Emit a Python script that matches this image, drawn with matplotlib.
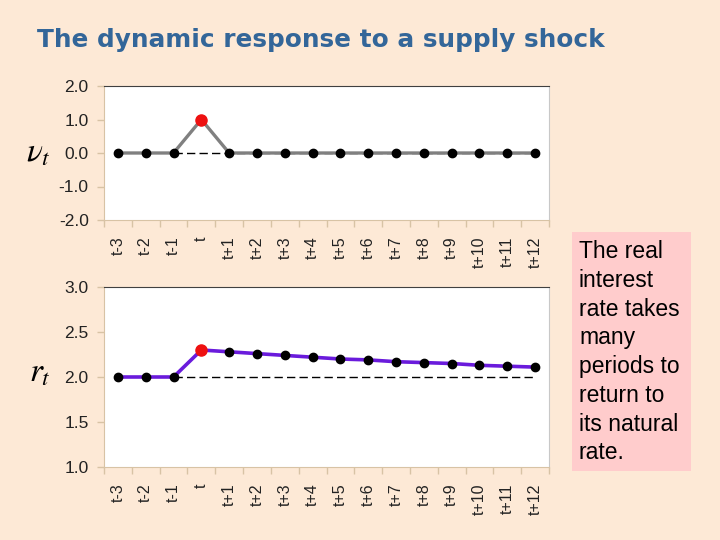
import matplotlib.pyplot as plt
from matplotlib.patches import Rectangle
from matplotlib.ticker import FixedLocator

periods = ["t-3", "t-2", "t-1", "t", "t+1", "t+2", "t+3", "t+4", "t+5",
           "t+6", "t+7", "t+8", "t+9", "t+10", "t+11", "t+12"]
shock = [0, 0, 0, 1.0, 0, 0, 0, 0, 0, 0, 0, 0, 0, 0, 0, 0]
rate = [2.0, 2.0, 2.0, 2.30, 2.28, 2.26, 2.24, 2.22, 2.20, 2.19,
        2.17, 2.16, 2.15, 2.13, 2.12, 2.11]
shock_natural = 0.0
rate_natural = 2.0
shock_idx = 3

BG = "#fde9d6"
TAN = "#d8c3a5"

plt.rcParams["font.family"] = ["Liberation Sans", "DejaVu Sans"]
plt.rcParams["mathtext.fontset"] = "stix"

fig = plt.figure(figsize=(7.2, 5.4), dpi=100, facecolor=BG)


def style_axes(ax, yticks, ylim):
	x = list(range(len(periods)))
	ax.set_xlim(-0.5, len(periods) - 0.5)
	ax.set_ylim(*ylim)
	ax.set_xticks(x)
	ax.set_xticklabels(periods, rotation=90, fontsize=11.5, color="#222222")
	ax.xaxis.set_minor_locator(FixedLocator([i - 0.5 for i in range(len(periods) + 1)]))
	ax.tick_params(axis="x", which="major", length=0, pad=12)
	ax.tick_params(axis="x", which="minor", length=5, color=TAN, width=1)
	ax.set_yticks(yticks)
	ax.set_yticklabels([f"{v:.1f}" for v in yticks], fontsize=12.5, color="#222222")
	ax.tick_params(axis="y", length=5, color=TAN, width=1, pad=6)
	ax.spines["top"].set_color("#404040")
	ax.spines["right"].set_color("#c8c8c8")
	ax.spines["left"].set_color(TAN)
	ax.spines["bottom"].set_color(TAN)
	return x


# top panel: supply shock
ax1 = fig.add_axes([104 / 720, 1 - 220 / 540, 445 / 720, 134 / 540])
x = style_axes(ax1, [-2.0, -1.0, 0.0, 1.0, 2.0], (-2.0, 2.0))
ax1.plot(x[2:], [shock_natural] * len(x[2:]), color="black", lw=1, ls=(0, (6, 3)), zorder=1)
ax1.plot(x, shock, color="#808080", lw=2.4, zorder=2)
ax1.plot(x, shock, "o", color="black", ms=6, zorder=3)
ax1.plot(x[shock_idx], shock[shock_idx], "o", color="#ee1111", ms=8, zorder=4)

# bottom panel: real interest rate
ax2 = fig.add_axes([104 / 720, 1 - 467 / 540, 445 / 720, 180 / 540])
style_axes(ax2, [1.0, 1.5, 2.0, 2.5, 3.0], (1.0, 3.0))
ax2.plot(x[2:], [rate_natural] * len(x[2:]), color="black", lw=1, ls=(0, (6, 3)), zorder=1)
ax2.plot(x, rate, color="#6a1bdc", lw=2.6, zorder=2)
ax2.plot(x, rate, "o", color="black", ms=6, zorder=3)
ax2.plot(x[shock_idx], rate[shock_idx], "o", color="#ee1111", ms=8, zorder=4)

fig.text(37 / 720, 1 - 40 / 540, "The dynamic response to a supply shock",
         fontsize=17.8, fontweight="bold", color="#336699", va="center",
         family="DejaVu Sans")
fig.text(38 / 720, 1 - 153 / 540, r"$\nu_t$", fontsize=24, ha="center", va="center")
fig.text(40 / 720, 1 - 373 / 540, r"$r_t$", fontsize=24, ha="center", va="center")

fig.patches.append(Rectangle((572 / 720, 1 - 471 / 540), 119 / 720, 239 / 540,
                             transform=fig.transFigure, facecolor="#ffcccc",
                             edgecolor="none", zorder=0))
fig.text(579 / 720, 1 - 240 / 540,
         "The real\ninterest\nrate takes\nmany\nperiods to\nreturn to\nits natural\nrate.",
         fontsize=16.5, va="top", ha="left", linespacing=1.32, color="black")

fig.savefig("out.png", dpi=100, facecolor=BG)
